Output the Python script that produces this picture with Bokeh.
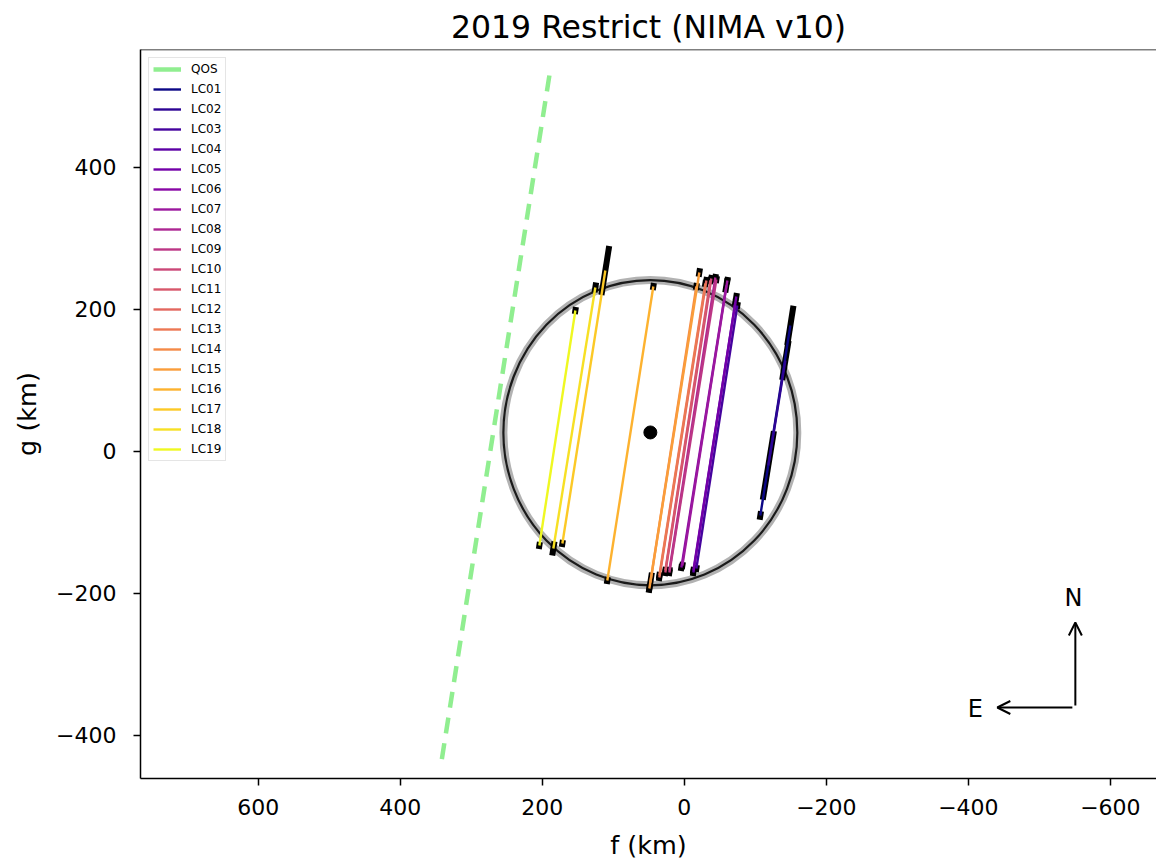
import numpy as np
from bokeh.plotting import figure
from bokeh.models import Range1d, FixedTicker, Span, Arrow, OpenHead, Label, Legend, LegendItem
from bokeh.palettes import Plasma256
from bokeh.embed import file_html
from bokeh.resources import INLINE

title_text = "2019 Restrict (NIMA v10)"

chord_names = ["LC01", "LC02", "LC03", "LC04", "LC05", "LC06", "LC07", "LC08", "LC09", "LC10",
               "LC11", "LC12", "LC13", "LC14", "LC15", "LC16", "LC17", "LC18", "LC19"]
f_top = [-149.3, -142.3, -74.6, -71.8, -73.2, -59.2, -60.6, -43.7, -45.1, -38.0,
         -36.6, -31.0, -29.6, -16.9, -21.1, 43.7, 111.3, 125.4, 153.5]
g_top = [177.5, 128.2, 205.6, 209.9, 218.3, 233.8, 240.8, 245.1, 242.3, 243.7,
         240.8, 240.8, 236.6, 232.4, 252.1, 232.4, 254.9, 231.0, 198.6]
f_bot = [-107.0, -118.3, -16.9, -12.7, -12.7, 4.2, 2.8, 21.1, 21.1, 26.8,
         26.8, 35.2, 35.2, 47.9, 49.3, 108.5, 171.8, 184.5, 204.2]
g_bot = [-90.1, -19.7, -164.8, -170.4, -167.6, -163.4, -160.6, -167.6, -170.4, -170.4,
         -167.6, -177.5, -174.6, -184.5, -193.0, -181.7, -129.6, -136.6, -132.4]
err_top = [28, 28, 5, 5, 5, 10, 5, 5, 5, 5, 5, 5, 5, 5, 6, 5, 35, 7, 5]
err_bot = [6, 49, 5, 5, 5, 5, 5, 5, 5, 5, 5, 5, 5, 14, 6, 5, 5, 10, 5]

qos_f = [190.1, 342.3]
qos_g = [529.6, -438.0]

ell_f, ell_g = [47.9], [26.5]
ell_w, ell_h = [414.0], [430.0]
center_f, center_g = [47.9], [26.8]

x_ticks = [600, 400, 200, 0, -200, -400, -600]
y_ticks = [-400, -200, 0, 200, 400]

FONT = "DejaVu Sans"

p = figure(width=1156, height=863,
           x_range=Range1d(766, -665), y_range=Range1d(-460.6, 566.2),
           output_backend="svg", toolbar_location=None,
           min_border_left=140, min_border_right=0, min_border_top=49, min_border_bottom=85)

p.title.text = title_text
p.title.align = "center"
p.title.text_font = FONT
p.title.text_font_size = "31.5px"
p.title.text_font_style = "normal"
p.title.text_color = "black"
p.title.standoff = 10

p.outline_line_color = None
p.xgrid.visible = False
p.ygrid.visible = False
p.background_fill_color = "white"

p.add_layout(Span(location=566.2, dimension="width", line_color="black", line_width=1.5))

for ax, ticks, lab in ((p.xaxis[0], x_ticks, "f (km)"), (p.yaxis[0], y_ticks, "g (km)")):
    ax.ticker = FixedTicker(ticks=ticks)
    ax.major_label_overrides = {t: (("\u2212" + str(abs(t))) if t < 0 else str(t)) for t in ticks}
    ax.axis_label = lab
    ax.axis_label_text_font = FONT
    ax.axis_label_text_font_size = "25.5px"
    ax.axis_label_text_font_style = "normal"
    ax.axis_label_text_color = "black"
    ax.major_label_text_font = FONT
    ax.major_label_text_font_size = "22px"
    ax.major_label_text_color = "black"
    ax.axis_line_width = 1.5
    ax.major_tick_line_width = 1.5
    ax.major_tick_out = 7
    ax.major_tick_in = 0
    ax.minor_tick_line_color = None
p.xaxis.major_label_standoff = 13
p.yaxis.major_label_standoff = 17
p.xaxis.axis_label_standoff = 12
p.yaxis.axis_label_standoff = 11

# QOS line
qos_r = p.line(qos_f, qos_g, line_color="#90ee90", line_width=4.5, line_dash="16 10")
qos_leg = p.line([np.nan], [np.nan], line_color="#90ee90", line_width=4.5)

# ellipse fit (uncertainty band + line)
p.ellipse(x=ell_f, y=ell_g, width=ell_w, height=ell_h, angle=0, fill_color=None,
          line_color="black", line_width=8, line_alpha=0.3)
p.ellipse(x=ell_f, y=ell_g, width=ell_w, height=ell_h, angle=0, fill_color=None,
          line_color="black", line_width=2.2, line_alpha=0.85)
p.scatter(center_f, center_g, size=13, color="black")

# chords + error bars
ft, gt, fb, gb = map(np.array, (f_top, g_top, f_bot, g_bot))
L = np.hypot(ft - fb, gt - gb)
uf, ug = (ft - fb) / L, (gt - gb) / L
et, eb = np.array(err_top), np.array(err_bot)
ex0 = np.concatenate([ft - et * uf, fb - eb * uf])
ey0 = np.concatenate([gt - et * ug, gb - eb * ug])
ex1 = np.concatenate([ft + et * uf, fb + eb * uf])
ey1 = np.concatenate([gt + et * ug, gb + eb * ug])
p.segment(x0=ex0, y0=ey0, x1=ex1, y1=ey1, line_color="black", line_width=6)

n = len(chord_names)
items = [LegendItem(label="QOS", renderers=[qos_leg])]
for i, name in enumerate(chord_names):
    col = Plasma256[int(round(i / (n - 1) * 255))]
    r = p.segment(x0=[f_top[i]], y0=[g_top[i]], x1=[f_bot[i]], y1=[g_bot[i]],
                  line_color=col, line_width=2.4)
    items.append(LegendItem(label=name, renderers=[r]))

legend = Legend(items=items, location="top_left")
legend.label_text_font = FONT
legend.label_text_font_size = "12px"
legend.label_text_color = "black"
legend.glyph_width = 28
legend.glyph_height = 14
legend.label_height = 14
legend.spacing = 6
legend.padding = 4
legend.margin = 8
legend.label_standoff = 10
legend.border_line_color = "#cccccc"
legend.border_line_width = 1
legend.background_fill_alpha = 0.85
p.add_layout(legend)

# compass
p.add_layout(Arrow(end=OpenHead(size=13, line_width=2), x_start=-550.7, y_start=-357.7,
                   x_end=-550.7, y_end=-240.8, line_width=2))
p.add_layout(Arrow(end=OpenHead(size=13, line_width=2), x_start=-546.5, y_start=-360.6,
                   x_end=-440.8, y_end=-360.6, line_width=2))
p.add_layout(Label(x=-548, y=-207, text="N", text_align="center", text_baseline="middle",
                   text_font=FONT, text_font_size="24px", text_color="black"))
p.add_layout(Label(x=-410, y=-363, text="E", text_align="center", text_baseline="middle",
                   text_font=FONT, text_font_size="24px", text_color="black"))

open("out.html", "w").write(file_html(p, INLINE))
